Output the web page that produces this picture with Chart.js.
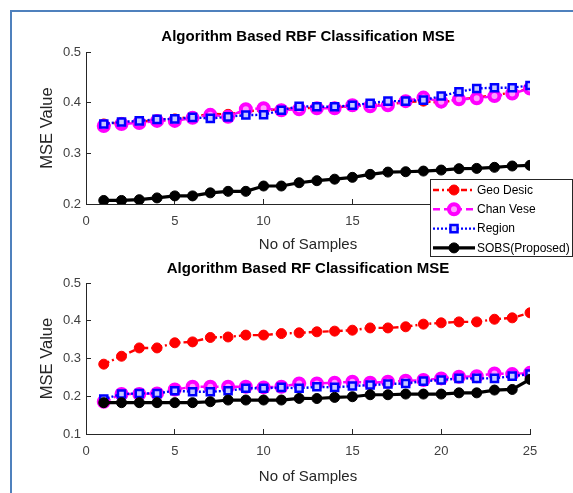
<!DOCTYPE html>
<html><head><meta charset="utf-8">
<script src="https://cdn.jsdelivr.net/npm/chart.js@4/dist/chart.umd.min.js"></script>
<style>
html,body{margin:0;padding:0;background:#fff;}
#wrap{position:relative;width:573px;height:493px;overflow:hidden;background:#fff;}
#border{position:absolute;left:10px;top:10px;width:700px;height:700px;border-left:2px solid #4f81bd;border-top:2px solid #4f81bd;}
#c1{position:absolute;left:0;top:0;width:573px;height:260px;}
#c2{position:absolute;left:0;top:260px;width:573px;height:233px;}
</style></head><body>
<div id="wrap"><div id="border"></div>
<canvas id="c1" width="573" height="260"></canvas>
<canvas id="c2" width="573" height="233"></canvas>
</div>
<script>
// ---- data ----
const samples = [1,2,3,4,5,6,7,8,9,10,11,12,13,14,15,16,17,18,19,20,21,22,23,24,25];
const seriesNames = ['Geo Desic','Chan Vese','Region','SOBS(Proposed)'];
const xTicks = [0,5,10,15,20,25];
const yTicksTop = [0.2,0.3,0.4,0.5];
const yTicksBottom = [0.1,0.2,0.3,0.4,0.5];

const rbfGeo = [0.358,0.361,0.362,0.366,0.368,0.372,0.378,0.377,0.383,0.385,0.387,0.389,0.390,0.391,0.393,0.395,0.397,0.401,0.403,0.400,0.4065,0.410,0.415,0.420,0.428];
const rbfChan = [0.354,0.358,0.360,0.364,0.364,0.370,0.376,0.372,0.387,0.389,0.385,0.387,0.389,0.389,0.395,0.393,0.395,0.403,0.410,0.402,0.4065,0.4085,0.413,0.418,0.428];
const rbfRegion = [0.358,0.362,0.364,0.367,0.368,0.371,0.369,0.372,0.3755,0.376,0.385,0.393,0.392,0.392,0.395,0.399,0.403,0.403,0.405,0.413,0.4215,0.428,0.4295,0.4295,0.434];
const rbfSobs = [0.207,0.207,0.2085,0.212,0.216,0.216,0.222,0.225,0.225,0.2355,0.2355,0.242,0.246,0.249,0.2526,0.2585,0.263,0.2637,0.265,0.267,0.2697,0.2703,0.2724,0.275,0.2763];

const rfGeo = [0.285,0.306,0.328,0.328,0.3416,0.344,0.3557,0.357,0.362,0.362,0.366,0.368,0.3707,0.3725,0.375,0.381,0.381,0.384,0.391,0.3945,0.397,0.397,0.404,0.4077,0.421];
const rfChan = [0.1855,0.2058,0.2058,0.2075,0.218,0.225,0.225,0.225,0.225,0.2235,0.225,0.234,0.234,0.2357,0.2384,0.2357,0.2384,0.241,0.243,0.2473,0.2517,0.253,0.2605,0.2587,0.262];
const rfRegion = [0.1926,0.2058,0.2075,0.2075,0.2146,0.212,0.212,0.2146,0.221,0.221,0.2235,0.221,0.225,0.2235,0.227,0.2296,0.2323,0.234,0.240,0.2429,0.2473,0.2473,0.2473,0.2534,0.2587];
const rfSobs = [0.183,0.183,0.183,0.183,0.183,0.183,0.1855,0.190,0.190,0.190,0.190,0.1943,0.194,0.197,0.1987,0.204,0.204,0.2058,0.2058,0.2058,0.209,0.209,0.2164,0.218,0.2447];

// ---- styles ----
const FONT = "'Liberation Sans', Arial, Helvetica, sans-serif";
const styles = [
  {borderColor:'#ff0000', backgroundColor:'#ff0000', borderWidth:2.4, borderDash:[6,3,2,3], pointStyle:'circle', pointRadius:5, pointBorderWidth:1, pointBackgroundColor:'#ff0000', order:4},
  {borderColor:'#ff00ff', backgroundColor:'#ffffff', borderWidth:2.4, borderDash:[7,4], pointStyle:'circle', pointRadius:5, pointBorderWidth:4, pointBackgroundColor:'#ff9cff', order:3},
  {borderColor:'#0000ff', backgroundColor:'#ffffff', borderWidth:2.4, borderDash:[2,2], pointStyle:'rect', pointRadius:5, pointBorderWidth:2.5, pointBackgroundColor:'#c8c8ff', order:2},
  {borderColor:'#000000', backgroundColor:'#000000', borderWidth:3.2, borderDash:[], pointStyle:'circle', pointRadius:5, pointBorderWidth:1, pointBackgroundColor:'#000000', order:1}
];

function makeDatasets(arrs){
  return arrs.map((a,i)=>Object.assign({
    label: seriesNames[i],
    data: samples.map((s,k)=>({x:s,y:a[k]})),
    tension:0, fill:false,
    pointBorderColor: styles[i].borderColor
  }, styles[i]));
}

const legendPlugin = {
  id:'mLegend',
  afterDraw(chart){
    const ctx = chart.ctx;
    const bx=430.5, by=179.5, bw=142, bh=77;
    ctx.save();
    ctx.fillStyle='#ffffff'; ctx.fillRect(bx,by,bw,bh);
    ctx.strokeStyle='#262626'; ctx.lineWidth=1; ctx.setLineDash([]); ctx.strokeRect(bx,by,bw,bh);
    chart.data.datasets.forEach((ds,i)=>{
      const cy = 190 + i*19.3;
      ctx.save();
      ctx.strokeStyle=ds.borderColor; ctx.lineWidth=ds.borderWidth; ctx.setLineDash(ds.borderDash||[]);
      ctx.beginPath(); ctx.moveTo(433,cy); ctx.lineTo(475,cy); ctx.stroke();
      ctx.restore();
      ctx.save();
      ctx.fillStyle=ds.pointBackgroundColor; ctx.strokeStyle=ds.pointBorderColor; ctx.lineWidth=ds.pointBorderWidth;
      Chart.helpers.drawPoint(ctx,{pointStyle:ds.pointStyle,radius:ds.pointRadius,rotation:0,borderWidth:ds.pointBorderWidth},454,cy);
      ctx.restore();
      ctx.fillStyle='#000'; ctx.font='12px '+FONT; ctx.textBaseline='middle'; ctx.textAlign='left';
      ctx.fillText(ds.label,477,cy+0.5);
    });
    ctx.restore();
  }
};

function makeChart(id, arrs, title, ymin, ymax, yTicks, titlePad, xHeight, xTitlePadBottom, withLegend){
  return new Chart(document.getElementById(id), {
    type:'line',
    data:{datasets: makeDatasets(arrs)},
    options:{
      responsive:false, animation:false, devicePixelRatio:1,
      layout:{padding:{left:0,right:43,top:0,bottom:0}},
      plugins:{
        legend:{display:false}, tooltip:{enabled:false},
        title:{display:true, text:title, fullSize:false, color:'#000',
          font:{family:FONT,size:15,weight:'bold'}, padding:titlePad}
      },
      scales:{
        x:{type:'linear', min:0, max:25, position:'bottom',
          afterFit(s){ s.height = xHeight; },
          afterBuildTicks(s){ s.ticks = xTicks.map(v=>({value:v})); },
          border:{color:'#262626', width:1},
          grid:{drawOnChartArea:false, drawTicks:true, tickLength:-5, color:'#262626'},
          ticks:{padding:15, color:'#404040', font:{family:FONT,size:13}, maxRotation:0, callback:v=>String(v)},
          title:{display:true, text:'No of Samples', color:'#262626', font:{family:FONT,size:15}, padding:{top:0,bottom:xTitlePadBottom}}
        },
        y:{type:'linear', min:ymin, max:ymax, position:'left',
          afterFit(s){ s.width = 86; },
          afterBuildTicks(s){ s.ticks = yTicks.map(v=>({value:v})); },
          border:{color:'#262626', width:1},
          grid:{drawOnChartArea:false, drawTicks:true, tickLength:-5, color:'#262626'},
          ticks:{padding:10, color:'#404040', font:{family:FONT,size:13}, callback:v=>Number(v).toFixed(1)},
          title:{display:true, text:'MSE Value', color:'#262626', font:{family:FONT,size:16.5}, padding:{top:38,bottom:0}}
        }
      }
    },
    plugins: withLegend ? [legendPlugin] : []
  });
}

makeChart('c1', [rbfGeo,rbfChan,rbfRegion,rbfSobs], 'Algorithm Based RBF Classification MSE', 0.2, 0.5, yTicksTop, {top:28,bottom:6}, 56, 6, true);
makeChart('c2', [rfGeo,rfChan,rfRegion,rfSobs], 'Algorithm Based RF Classification MSE', 0.1, 0.5, yTicksBottom, {top:0,bottom:5}, 59, 7, false);
</script>
</body></html>
